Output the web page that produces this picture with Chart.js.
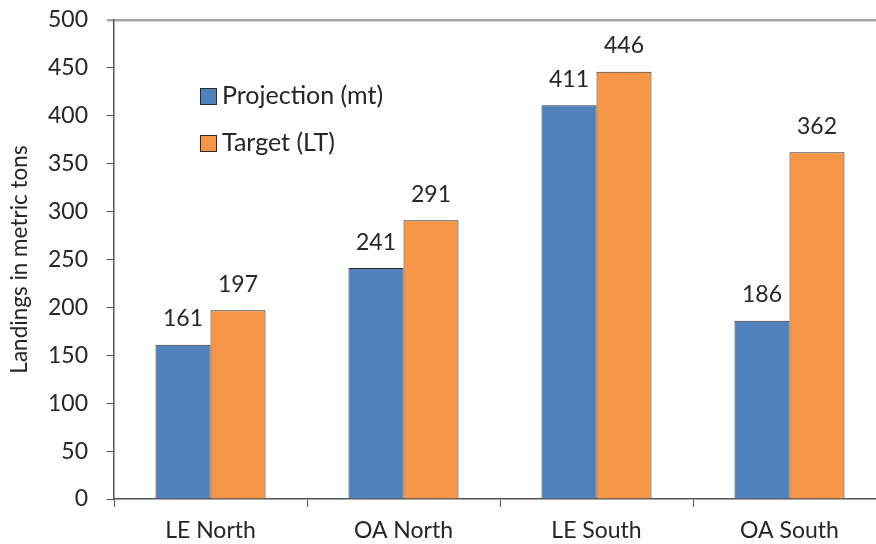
<!DOCTYPE html>
<html>
<head>
<meta charset="utf-8">
<script src="https://cdn.jsdelivr.net/npm/chart.js@4/dist/chart.umd.min.js"></script>
<style>
  html, body { margin: 0; padding: 0; background: #fff; overflow: hidden; }
  #wrap { width: 888px; height: 544px; }
</style>
</head>
<body>
<div id="wrap"><canvas id="myChart"></canvas></div>
<script>
const categories = ["LE North", "OA North", "LE South", "OA South"];
const projection = [161, 241, 411, 186];
const target = [197, 291, 446, 362];
const yTicks = [0, 50, 100, 150, 200, 250, 300, 350, 400, 450, 500];

const FONT = "Lato, 'Open Sans', sans-serif";
const TEXT = "#262626";
const AXIS = "#555555";

// value labels above every bar
const barLabels = {
  id: "barLabels",
  afterDatasetsDraw(chart) {
    const ctx = chart.ctx;
    ctx.save();
    ctx.font = "23px " + FONT;
    ctx.fillStyle = TEXT;
    ctx.textAlign = "center";
    ctx.textBaseline = "middle";
    chart.data.datasets.forEach((ds, i) => {
      chart.getDatasetMeta(i).data.forEach((bar, j) => {
        ctx.fillText(String(ds.data[j]), bar.x, bar.y - 26);
      });
    });
    ctx.restore();
  },
};

// legend sits inside the plot, upper left
const innerLegend = {
  id: "innerLegend",
  afterDraw(chart) {
    const ctx = chart.ctx;
    const area = chart.chartArea;
    ctx.save();
    ctx.font = "25px " + FONT;
    ctx.textBaseline = "middle";
    chart.data.datasets.forEach((ds, i) => {
      const x = area.left + 86;
      const y = area.top + 76 + i * 47;
      ctx.fillStyle = ds.backgroundColor;
      ctx.fillRect(x, y - 8, 17, 17);
      ctx.strokeStyle = "#2b2b2b";
      ctx.lineWidth = 1;
      ctx.strokeRect(x + 0.5, y - 7.5, 16, 16);
      ctx.fillStyle = TEXT;
      ctx.textAlign = "left";
      ctx.fillText(ds.label, x + 22, y);
    });
    ctx.restore();
  },
};

const ctx = document.getElementById("myChart").getContext("2d");
new Chart(ctx, {
  type: "bar",
  data: {
    labels: categories,
    datasets: [
      {
        label: "Projection (mt)",
        data: projection,
        backgroundColor: "#4F81BD",
        borderColor: "#2b2b2b",
        borderWidth: 1,
      },
      {
        label: "Target (LT)",
        data: target,
        backgroundColor: "#F79646",
        borderColor: "#2b2b2b",
        borderWidth: 1,
      },
    ],
  },
  options: {
    responsive: true,
    maintainAspectRatio: false,
    animation: false,
    datasets: {
      bar: { barPercentage: 1, categoryPercentage: 0.57 },
    },
    layout: { padding: { top: 20, right: 2, left: 0, bottom: 0 } },
    plugins: {
      legend: { display: false },
      tooltip: { enabled: false },
    },
    scales: {
      x: {
        grid: {
          display: true,
          drawOnChartArea: false,
          offset: true,
          tickLength: 8,
          tickColor: AXIS,
        },
        border: { color: AXIS, width: 1.5 },
        ticks: {
          color: TEXT,
          font: { family: FONT, size: 23 },
          padding: 10,
          maxRotation: 0,
        },
        afterFit: (s) => { s.height = 45; },
      },
      y: {
        min: 0,
        max: 500,
        afterBuildTicks: (s) => { s.ticks = yTicks.map((v) => ({ value: v })); },
        grid: {
          drawOnChartArea: true,
          tickLength: 7,
          color: (c) => (c.tick && c.tick.value === 500 ? "#a6a6a6" : "rgba(0,0,0,0)"),
          tickColor: (c) => (c.tick && c.tick.value === 500 ? "#a6a6a6" : AXIS),
          lineWidth: (c) => (c.tick && c.tick.value === 500 ? 2.5 : 1),
        },
        border: { color: AXIS, width: 1.5 },
        ticks: {
          color: TEXT,
          font: { family: FONT, size: 23 },
          padding: 19,
        },
        title: {
          display: true,
          text: "Landings in metric tons",
          color: TEXT,
          font: { family: FONT, size: 22.5 },
          padding: { top: 6, bottom: 0 },
        },
        afterFit: (s) => {
          s.width = 114;
          // the label padding would otherwise push the plot top down
          s.paddingTop = 0;
          s.paddingBottom = 0;
        },
      },
    },
  },
  plugins: [barLabels, innerLegend],
});
</script>
</body>
</html>
